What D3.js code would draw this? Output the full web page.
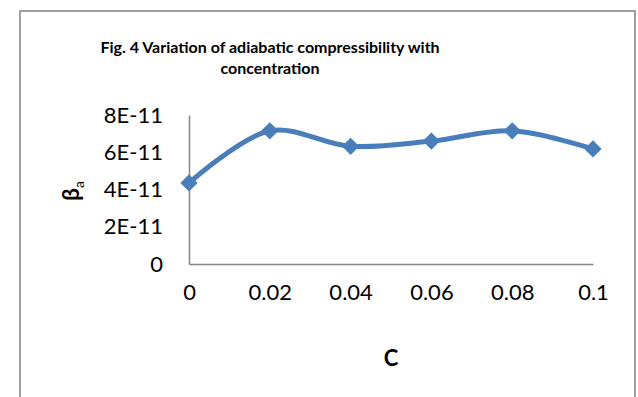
<!DOCTYPE html>
<html>
<head>
<meta charset="utf-8">
<script src="https://cdn.jsdelivr.net/npm/d3@7"></script>
<style>
  body { margin: 0; background: #fff; }
  #chart { width: 638px; height: 397px; }
  text { font-family: Lato, "Open Sans", sans-serif; fill: #000; }
</style>
</head>
<body>
<div id="chart"></div>
<script>
// chart values
const categories = ["0", "0.02", "0.04", "0.06", "0.08", "0.1"];
const beta = [4.35e-11, 7.15e-11, 6.32e-11, 6.6e-11, 7.15e-11, 6.18e-11];
const yTicks = [0, 2e-11, 4e-11, 6e-11, 8e-11];
const yTickLabels = ["0", "2E-11", "4E-11", "6E-11", "8E-11"];

const width = 638, height = 397;

const svg = d3.select("#chart")
    .append("svg")
    .attr("width", width)
    .attr("height", height);

// outer frame
svg.append("path")
    .attr("d", "M20,400 L20,11 L635,11 L635,400")
    .attr("fill", "none")
    .attr("stroke", "#a0a0a0")
    .attr("stroke-width", 2);

const margin = { top: 115, left: 189, right: 45, bottom: 133 };

const xScale = d3.scalePoint()
    .domain(categories)
    .range([margin.left, width - margin.right]);

const yScale = d3.scaleLinear()
    .domain([0, 8e-11])
    .range([height - margin.bottom, margin.top]);

// axes
const xAxis = svg.append("g")
    .attr("transform", `translate(0,${height - margin.bottom})`)
    .call(d3.axisBottom(xScale).tickSize(0).tickPadding(20));

const yAxis = svg.append("g")
    .attr("transform", `translate(${margin.left},0)`)
    .call(d3.axisLeft(yScale).tickValues(yTicks).tickSize(0).tickPadding(26)
        .tickFormat((d, i) => yTickLabels[i]));

svg.selectAll(".domain")
    .attr("stroke", "#868686")
    .attr("stroke-width", 1.5);

svg.selectAll(".tick text")
    .style("font-family", "Lato, 'Open Sans', sans-serif")
    .style("font-size", "22px");

// line
const line = d3.line()
    .x((d, i) => xScale(categories[i]))
    .y(d => yScale(d))
    .curve(d3.curveCatmullRom.alpha(0.5));

svg.append("path")
    .datum(beta)
    .attr("d", line)
    .attr("fill", "none")
    .attr("stroke", "#4a7ebb")
    .attr("stroke-width", 5);

svg.selectAll(".marker")
    .data(beta)
    .enter()
    .append("path")
        .attr("class", "marker")
        .attr("d", d3.symbol().type(d3.symbolDiamond2).size(190))
        .attr("transform", (d, i) => `translate(${xScale(categories[i])},${yScale(d)})`)
        .attr("fill", "#4a7ebb");

// title
const title = svg.append("text")
    .attr("text-anchor", "middle")
    .style("font-weight", "bold")
    .style("font-size", "16px");
title.append("tspan").attr("x", 270).attr("y", 53)
    .text("Fig. 4 Variation of adiabatic compressibility with");
title.append("tspan").attr("x", 270).attr("y", 74)
    .text("concentration");

// axis labels
svg.append("text")
    .attr("x", 391)
    .attr("y", 366)
    .attr("text-anchor", "middle")
    .style("font-weight", "bold")
    .style("font-size", "22px")
    .text("C");

const yLabel = svg.append("text")
    .attr("transform", "translate(79,191) rotate(-90)")
    .attr("text-anchor", "middle")
    .style("font-weight", "bold")
    .style("font-size", "23px");
yLabel.append("tspan").text("β");
yLabel.append("tspan").attr("dy", 5).style("font-size", "14px").style("font-weight", "normal").text("a");
</script>
</body>
</html>
